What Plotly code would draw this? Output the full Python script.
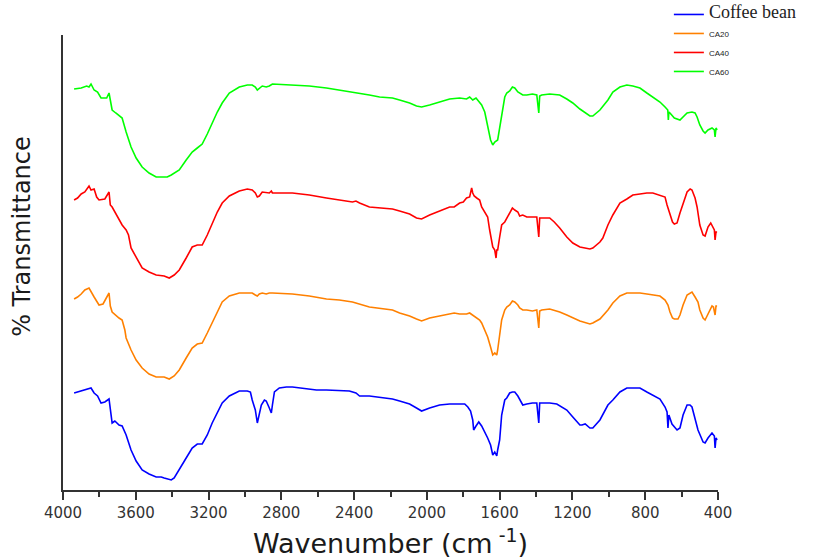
import plotly.graph_objects as go

# ---------------- data (arbitrary offset transmittance units) ----------------
coffee_wn = [3939, 3920, 3900, 3870, 3846, 3829, 3810, 3791, 3770, 3747, 3740, 3730, 3715, 3692, 3675,
             3653, 3626, 3598, 3565, 3527, 3488, 3460, 3444, 3416, 3405, 3389, 3361, 3323, 3290, 3262,
             3235, 3207, 3180, 3152, 3125, 3086, 3031, 2987, 2970, 2960, 2943, 2932, 2921, 2910, 2893,
             2883, 2866, 2855, 2849, 2838, 2811, 2772, 2739, 2607, 2552, 2426, 2390, 2370, 2316, 2260,
             2189, 2150, 2095, 2057, 2029, 1985, 1930, 1875, 1820, 1792, 1775, 1760, 1748, 1743, 1730,
             1715, 1699, 1682, 1666, 1650, 1638, 1627, 1616, 1611, 1600, 1589, 1572, 1561, 1545, 1530,
             1517, 1500, 1490, 1473, 1451, 1420, 1396, 1385, 1380, 1369, 1325, 1286, 1270, 1231, 1198,
             1159, 1148, 1130, 1104, 1088, 1049, 1005, 978, 939, 901, 868, 829, 791, 758, 719,
             691, 680, 675, 670, 653, 625, 609, 592, 570, 554, 543, 526, 510, 482, 471,
             455, 433, 420, 416, 411, 405]
coffee_t = [97, 98, 99, 100, 102, 97, 94, 87, 88, 91, 80, 67, 69, 65, 64,
            55, 40, 29, 20, 16, 13, 13, 12, 10, 10, 12, 20, 32, 42, 46,
            46, 55, 67, 78, 87, 94, 99, 99, 98, 90, 80, 67, 75, 85, 90,
            89, 82, 77, 85, 98, 102, 103, 103, 100, 100, 99, 97, 94, 94, 93,
            91, 89, 86, 82, 79, 82, 85, 86, 86, 86, 83, 79, 70, 60, 64,
            68, 64, 58, 52, 45, 35, 38, 34, 40, 50, 75, 90, 92, 97, 98,
            98, 94, 90, 85, 86, 87, 87, 67, 87, 87, 87, 86, 84, 80, 73,
            65, 65, 66, 62, 62, 70, 85, 90, 98, 102, 102, 102, 98, 95, 91,
            83, 78, 62, 75, 66, 60, 62, 75, 85, 85, 83, 72, 60, 48, 47,
            52, 57, 54, 42, 52, 50]

ca20_wn = [3939, 3920, 3900, 3880, 3857, 3846, 3829, 3802, 3780, 3747, 3740, 3730, 3708, 3692, 3675,
           3660, 3653, 3626, 3598, 3565, 3527, 3488, 3444, 3427, 3416, 3389, 3361, 3323, 3290, 3262,
           3235, 3207, 3180, 3152, 3125, 3086, 3031, 2987, 2960, 2943, 2932, 2921, 2905, 2883, 2866,
           2849, 2739, 2646, 2552, 2481, 2409, 2316, 2260, 2189, 2150, 2095, 2057, 2029, 1985, 1930,
           1875, 1850, 1820, 1782, 1765, 1748, 1730, 1710, 1699, 1682, 1666, 1650, 1638, 1627, 1616,
           1611, 1600, 1589, 1572, 1561, 1545, 1530, 1517, 1500, 1490, 1473, 1451, 1420, 1396, 1385,
           1380, 1369, 1325, 1286, 1270, 1231, 1198, 1159, 1104, 1088, 1049, 1005, 978, 939, 901,
           868, 829, 791, 758, 719, 691, 675, 664, 650, 640, 620, 609, 592, 570, 543,
           526, 510, 500, 482, 471, 455, 440, 433, 425, 416, 411, 405]
ca20_t = [191, 193, 196, 200, 202, 198, 193, 185, 186, 197, 184, 178, 174, 172, 170,
          160, 152, 140, 130, 122, 116, 113, 113, 112, 111, 114, 120, 132, 142, 146,
          147, 157, 167, 179, 188, 194, 197, 197, 197, 195, 194, 196, 197, 196, 197,
          197, 196, 194, 191, 190, 188, 183, 182, 180, 177, 174, 171, 169, 172, 174,
          176, 177, 176, 176, 177, 175, 172, 170, 167, 160, 153, 143, 135, 137, 135,
          140, 157, 170, 180, 183, 185, 189, 188, 185, 182, 180, 180, 179, 180, 162,
          179, 180, 181, 179, 178, 175, 172, 169, 166, 167, 171, 180, 187, 194, 197,
          197, 197, 196, 195, 194, 190, 185, 178, 172, 171, 171, 175, 185, 195, 198,
          193, 188, 180, 172, 170, 176, 183, 184, 183, 175, 184, 184]

ca40_wn = [3939, 3920, 3900, 3880, 3857, 3846, 3829, 3815, 3802, 3770, 3747, 3740, 3730, 3715, 3700,
           3692, 3675, 3653, 3640, 3626, 3598, 3565, 3527, 3488, 3444, 3427, 3416, 3389, 3361, 3323,
           3290, 3262, 3235, 3207, 3180, 3152, 3125, 3086, 3031, 2987, 2960, 2943, 2932, 2921, 2905,
           2883, 2866, 2855, 2849, 2739, 2646, 2552, 2481, 2409, 2390, 2370, 2316, 2260, 2189, 2150,
           2095, 2057, 2029, 1985, 1930, 1875, 1850, 1820, 1800, 1782, 1765, 1754, 1748, 1740, 1726,
           1710, 1699, 1682, 1666, 1655, 1638, 1627, 1620, 1616, 1611, 1600, 1589, 1572, 1561, 1545,
           1530, 1517, 1500, 1490, 1473, 1451, 1420, 1396, 1385, 1380, 1369, 1325, 1300, 1270, 1231,
           1198, 1159, 1130, 1104, 1088, 1049, 1033, 1005, 978, 939, 901, 868, 829, 791, 758,
           719, 691, 680, 664, 650, 640, 625, 609, 592, 570, 553, 543, 526, 515, 500,
           482, 471, 455, 440, 433, 420, 416, 411, 405]
ca40_t = [290, 292, 296, 298, 304, 300, 301, 293, 290, 291, 298, 285, 283, 278, 272,
          270, 265, 260, 255, 242, 233, 222, 218, 215, 214, 213, 212, 215, 220, 232,
          243, 245, 245, 255, 267, 278, 287, 294, 299, 301, 300, 297, 293, 294, 298,
          297, 297, 299, 297, 297, 295, 292, 290, 288, 289, 287, 283, 282, 281, 279,
          276, 272, 271, 275, 279, 283, 283, 287, 288, 292, 293, 302, 297, 294, 292,
          290, 283, 277, 273, 260, 243, 240, 232, 240, 240, 253, 265, 268, 272, 278,
          282, 280, 278, 274, 275, 273, 273, 273, 253, 272, 272, 272, 268, 262, 253,
          247, 243, 242, 241, 242, 248, 252, 265, 275, 287, 291, 295, 296, 297, 297,
          295, 293, 285, 275, 268, 266, 267, 277, 286, 298, 301, 300, 292, 283, 265,
          255, 254, 263, 267, 265, 260, 250, 258, 258]

ca60_wn = [3939, 3900, 3870, 3857, 3846, 3829, 3810, 3791, 3760, 3747, 3740, 3730, 3710, 3692, 3675,
           3653, 3626, 3598, 3565, 3527, 3488, 3444, 3427, 3405, 3361, 3323, 3290, 3262, 3235, 3207,
           3180, 3152, 3125, 3086, 3031, 2987, 2960, 2943, 2932, 2921, 2905, 2883, 2866, 2849, 2739,
           2646, 2552, 2481, 2409, 2390, 2316, 2260, 2189, 2150, 2095, 2057, 2029, 1985, 1930, 1875,
           1820, 1782, 1765, 1748, 1730, 1710, 1699, 1682, 1666, 1650, 1638, 1627, 1611, 1600, 1589,
           1572, 1561, 1545, 1530, 1517, 1500, 1490, 1473, 1451, 1420, 1396, 1385, 1380, 1369, 1325,
           1270, 1231, 1198, 1159, 1104, 1088, 1049, 1005, 978, 939, 901, 868, 829, 791, 758,
           719, 691, 676, 673, 670, 664, 640, 609, 592, 570, 543, 526, 515, 500, 482,
           471, 455, 433, 420, 416, 411, 405]
ca60_t = [401, 402, 404, 403, 406, 400, 398, 392, 392, 397, 390, 380, 377, 374, 372,
          358, 343, 332, 323, 317, 313, 313, 313, 315, 320, 330, 338, 342, 346, 356,
          367, 378, 387, 397, 403, 405, 405, 403, 400, 402, 404, 403, 404, 406, 405,
          404, 402, 400, 398, 397, 395, 393, 392, 390, 387, 384, 383, 385, 388, 391,
          392, 391, 393, 390, 392, 388, 385, 378, 363, 350, 345, 348, 350, 362, 377,
          393, 397, 399, 403, 402, 398, 397, 395, 395, 396, 395, 377, 394, 395, 396,
          395, 391, 387, 381, 374, 374, 380, 390, 398, 403, 405, 404, 402, 397, 393,
          388, 383, 380, 370, 378, 377, 372, 370, 373, 377, 378, 377, 373, 365, 359,
          357, 360, 362, 360, 353, 362, 360]

series_names = ["Coffee bean", "CA20", "CA40", "CA60"]
series_colors = ["#0000FF", "#FF8000", "#FF0000", "#00FF00"]

tick_values = [4000, 3600, 3200, 2800, 2400, 2000, 1600, 1200, 800, 400]
tick_labels = ["4000", "3600", "3200", "2800", "2400", "2000", "1600", "1200", "800", "400"]

# ---------------- figure ----------------
legend_labels = [
    "<span style='font-family:Liberation Serif;font-size:18px'>" + series_names[0] + "</span>",
    series_names[1], series_names[2], series_names[3],
]
all_x = [coffee_wn, ca20_wn, ca40_wn, ca60_wn]
all_y = [coffee_t, ca20_t, ca40_t, ca60_t]

fig = go.Figure()
for xs, ys, lab, col in zip(all_x, all_y, legend_labels, series_colors):
    fig.add_trace(go.Scatter(x=xs, y=ys, mode="lines", name=lab,
                             line=dict(color=col, width=1.6)))

axis_col = "#333333"
fig.update_layout(
    width=814, height=559,
    margin=dict(l=63, r=96, t=35, b=69, autoexpand=False),
    paper_bgcolor="white", plot_bgcolor="white",
    font=dict(family="DejaVu Sans", color="#222222"),
    showlegend=True,
    legend=dict(x=0.925, y=1.077, xanchor="left", yanchor="top",
                bgcolor="rgba(0,0,0,0)", font=dict(family="Liberation Sans", size=8, color="#222222"),
                tracegroupgap=0),
    xaxis=dict(range=[4000, 400], tickmode="array", tickvals=tick_values, ticktext=tick_labels,
               automargin=False,
               showline=True, linecolor=axis_col, linewidth=2, ticks="outside", ticklen=8,
               tickwidth=1.5, tickcolor=axis_col, showgrid=False, zeroline=False,
               tickfont=dict(family="DejaVu Sans", size=15, color="#333333"),
               minor=dict(dtick=200, tick0=400, ticks="outside", ticklen=5, tickwidth=1.5,
                          tickcolor=axis_col, showgrid=False),
               title=dict(text="Wavenumber (cm<sup> -1</sup>)",
                          font=dict(family="DejaVu Sans", size=27, color="#1a1a1a"), standoff=16)),
    yaxis=dict(range=[0, 455], showline=True, linecolor=axis_col, linewidth=2, showticklabels=False,
               automargin=False,
               ticks="", showgrid=False, zeroline=False),
    annotations=[dict(text="% Transmittance", xref="paper", yref="paper", x=-0.063, y=0.558,
                      xanchor="center", yanchor="middle", textangle=-90, showarrow=False,
                      font=dict(family="DejaVu Sans", size=24, color="#1a1a1a"))],
)

fig.write_html("out.html", config={"displayModeBar": False},
               post_script="document.body.style.margin='0';")
